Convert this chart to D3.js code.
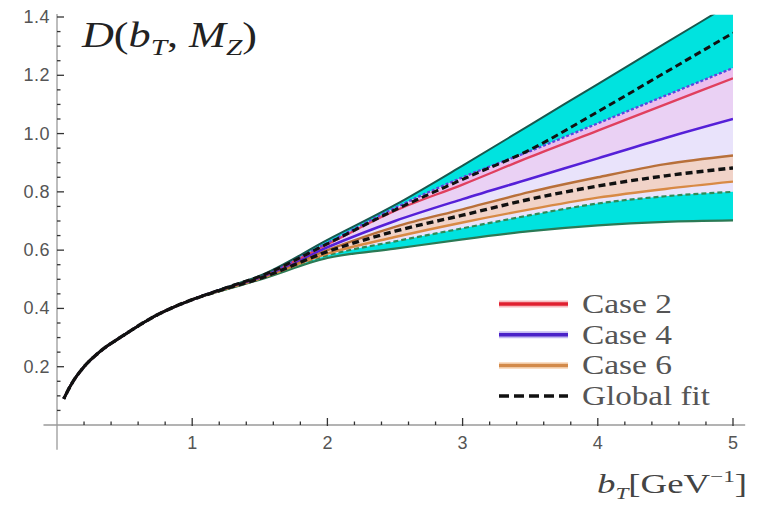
<!DOCTYPE html>
<html>
<head>
<meta charset="utf-8">
<script src="https://cdn.jsdelivr.net/npm/d3@7.9.0/dist/d3.min.js"></script>
<style>
  html, body { margin: 0; padding: 0; background: #fff; }
  svg { display: block; }
</style>
</head>
<body>
<svg id="chart" width="757" height="507"></svg>
<script>
// b_T grid (GeV^-1) and the curves
const bT = [0.05, 0.1, 0.2, 0.3, 0.5, 0.75, 1, 1.25, 1.5, 2, 2.5, 3, 3.5, 4, 4.5, 5];

const globalUpper   = [0.09, 0.135, 0.2, 0.245, 0.31, 0.38, 0.43, 0.472, 0.512, 0.635, 0.755, 0.89, 1.03, 1.17, 1.31, 1.45];
const globalHigh    = [0.09, 0.135, 0.2, 0.245, 0.31, 0.38, 0.43, 0.471, 0.51, 0.622, 0.738, 0.843, 0.945, 1.075, 1.21, 1.345];
const case4Upper    = [0.09, 0.135, 0.2, 0.245, 0.31, 0.38, 0.43, 0.471, 0.51, 0.625, 0.745, 0.85, 0.94, 1.035, 1.13, 1.225];
const case2Line     = [0.09, 0.135, 0.2, 0.245, 0.31, 0.38, 0.43, 0.47, 0.508, 0.62, 0.735, 0.825, 0.92, 1.01, 1.10, 1.19];
const case4Lower    = [0.09, 0.135, 0.2, 0.245, 0.31, 0.38, 0.43, 0.47, 0.506, 0.61, 0.70, 0.775, 0.845, 0.915, 0.985, 1.05];
const case6Upper    = [0.09, 0.135, 0.2, 0.245, 0.31, 0.38, 0.43, 0.469, 0.504, 0.60, 0.68, 0.74, 0.80, 0.85, 0.895, 0.925];
const globalCentral = [0.09, 0.135, 0.2, 0.245, 0.31, 0.38, 0.43, 0.468, 0.503, 0.595, 0.665, 0.72, 0.775, 0.82, 0.855, 0.882];
const case6Lower    = [0.09, 0.135, 0.2, 0.245, 0.31, 0.38, 0.43, 0.467, 0.502, 0.588, 0.645, 0.695, 0.74, 0.78, 0.81, 0.835];
const lowerBandTop  = [0.09, 0.135, 0.2, 0.245, 0.31, 0.38, 0.43, 0.466, 0.501, 0.582, 0.63, 0.675, 0.72, 0.76, 0.785, 0.80];
const globalLower   = [0.09, 0.135, 0.2, 0.245, 0.31, 0.38, 0.43, 0.465, 0.499, 0.573, 0.605, 0.637, 0.665, 0.685, 0.697, 0.702];

const xMajor = [1, 2, 3, 4, 5];
const yMajor = [0.2, 0.4, 0.6, 0.8, 1.0, 1.2, 1.4];
const legendLabels = ['Case 2', 'Case 4', 'Case 6', 'Global fit'];

const svg = d3.select('#chart');

const x = d3.scaleLinear().domain([0, 5]).range([57, 733]);
const y = d3.scaleLinear().domain([0, 1.4]).range([425, 17]);

const pts = arr => bT.map((b, i) => [b, arr[i]]);
const pair = (lo, hi) => bT.map((b, i) => ({ b, lo: lo[i], hi: hi[i] }));

let line = d3.line()
  .x(d => x(d[0]))
  .y(d => y(d[1]))
  .curve(d3.curveMonotoneX);

let area = d3.area()
  .x(d => x(d.b))
  .y0(d => y(d.lo))
  .y1(d => y(d.hi))
  .curve(d3.curveMonotoneX);

svg.append('clipPath').attr('id', 'plotClip')
  .append('rect')
  .attr('x', x(0)).attr('y', y(1.408))
  .attr('width', x(5) - x(0)).attr('height', y(-0.1) - y(1.408));

const plot = svg.append('g').attr('clip-path', 'url(#plotClip)');

// bands
const bands = [
  { lo: globalLower, hi: globalUpper, fill: '#00e3df' },
  { lo: lowerBandTop, hi: case4Upper, fill: '#e9e3fb' },
  { lo: case4Lower, hi: case2Line, fill: 'rgba(238,175,232,0.35)' },
  { lo: case2Line, hi: case4Upper, fill: 'rgba(238,160,228,0.55)' },
  { lo: case6Lower, hi: case6Upper, fill: 'rgba(250,196,150,0.5)' }
];

plot.selectAll('path.band')
  .data(bands)
  .join('path')
  .attr('class', 'band')
  .attr('d', d => area(pair(d.lo, d.hi)))
  .attr('fill', d => d.fill);

// curves (black dashed last so they sit on top)
const curves = [
  { v: globalLower, stroke: '#2b7a55', w: 2.2, dash: null },
  { v: lowerBandTop, stroke: '#2e8b57', w: 2.2, dash: '5,3' },
  { v: case6Lower, stroke: '#d88a45', w: 2.4, dash: null },
  { v: case6Upper, stroke: '#b8703a', w: 2.4, dash: null },
  { v: case4Lower, stroke: '#5520d8', w: 2.5, dash: null },
  { v: case2Line, stroke: '#e0405e', w: 2.3, dash: null },
  { v: case4Upper, stroke: '#5a46de', w: 2.3, dash: '3,2' },
  { v: globalUpper, stroke: '#17594f', w: 2, dash: null },
  { v: globalHigh, stroke: '#111', w: 3, dash: '7,4', off: 0 },
  { v: globalCentral, stroke: '#111', w: 3.4, dash: '7,4', off: 5 }
];

plot.selectAll('path.curve')
  .data(curves)
  .join('path')
  .attr('class', 'curve')
  .attr('d', d => line(pts(d.v)))
  .attr('fill', 'none')
  .attr('stroke', d => d.stroke)
  .attr('stroke-width', d => d.w)
  .attr('stroke-dasharray', d => d.dash)
  .attr('stroke-dashoffset', d => d.off || 0);

// axes, Mathematica style: ticks drawn inward
const xMinor = d3.range(0.2, 5.01, 0.2).filter(v => Math.abs(v - Math.round(v)) > 0.01);
const yMinor = d3.range(0.05, 1.41, 0.05).filter(v => Math.abs(v * 5 - Math.round(v * 5)) > 0.01);

const axes = svg.append('g');

axes.append('line')
  .attr('x1', x(-0.1)).attr('x2', x(5.09))
  .attr('y1', y(0)).attr('y2', y(0))
  .attr('stroke', '#9a9a9a').attr('stroke-width', 1.3);
axes.append('line')
  .attr('x1', x(0)).attr('x2', x(0))
  .attr('y1', y(-0.085)).attr('y2', y(1.41))
  .attr('stroke', '#9a9a9a').attr('stroke-width', 1.3);

axes.selectAll('line.xmin').data(xMinor).join('line')
  .attr('x1', d => x(d)).attr('x2', d => x(d))
  .attr('y1', y(0)).attr('y2', y(0) - 3.5)
  .attr('stroke', '#333').attr('stroke-width', 1.3);
axes.selectAll('line.xmaj').data(xMajor).join('line')
  .attr('x1', d => x(d)).attr('x2', d => x(d))
  .attr('y1', y(0) + 1).attr('y2', y(0) - 7)
  .attr('stroke', '#333').attr('stroke-width', 1.3);
axes.selectAll('line.ymin').data(yMinor).join('line')
  .attr('x1', x(0)).attr('x2', x(0) + 3.5)
  .attr('y1', d => y(d)).attr('y2', d => y(d))
  .attr('stroke', '#333').attr('stroke-width', 1.3);
axes.selectAll('line.ymaj').data(yMajor).join('line')
  .attr('x1', x(0)).attr('x2', x(0) + 7)
  .attr('y1', d => y(d)).attr('y2', d => y(d))
  .attr('stroke', '#333').attr('stroke-width', 1.3);

axes.selectAll('text.xlab').data(xMajor).join('text')
  .attr('x', d => x(d)).attr('y', 449)
  .attr('text-anchor', 'middle')
  .attr('font-family', "'Liberation Sans', Arial, sans-serif")
  .attr('font-size', 18).attr('fill', '#555')
  .text(d => d3.format('d')(d));

axes.selectAll('text.ylab').data(yMajor).join('text')
  .attr('x', 50).attr('y', d => y(d) + 6)
  .attr('text-anchor', 'end')
  .attr('font-family', "'Liberation Sans', Arial, sans-serif")
  .attr('font-size', 18).attr('fill', '#555')
  .attr('letter-spacing', 0.5)
  .text(d => d3.format('.1f')(d));

// title D(b_T, M_Z)
const title = svg.append('text')
  .attr('x', 82).attr('y', 47)
  .attr('font-family', "'Liberation Serif', 'Times New Roman', serif")
  .attr('font-size', 36).attr('fill', '#222')
  .attr('textLength', 175).attr('lengthAdjust', 'spacingAndGlyphs');
title.append('tspan').attr('font-style', 'italic').text('D');
title.append('tspan').text('(');
title.append('tspan').attr('font-style', 'italic').text('b');
title.append('tspan').attr('font-style', 'italic').attr('font-size', 24).attr('dy', 8).text('T');
title.append('tspan').attr('dy', -8).text(', ');
title.append('tspan').attr('font-style', 'italic').text('M');
title.append('tspan').attr('font-style', 'italic').attr('font-size', 24).attr('dy', 8).text('Z');
title.append('tspan').attr('dy', -8).text(')');

// x-axis label b_T [GeV^-1]
const xl = svg.append('text')
  .attr('x', 597).attr('y', 493)
  .attr('font-family', "'Liberation Serif', 'Times New Roman', serif")
  .attr('font-size', 27).attr('fill', '#444')
  .attr('textLength', 150).attr('lengthAdjust', 'spacingAndGlyphs');
xl.append('tspan').attr('font-style', 'italic').text('b');
xl.append('tspan').attr('font-style', 'italic').attr('font-size', 17).attr('dy', 6).text('T');
xl.append('tspan').attr('dy', -6).text('[GeV');
xl.append('tspan').attr('font-size', 17).attr('dy', -11).text('\u22121');
xl.append('tspan').attr('dy', 11).text(']');

// legend
const legendStyles = [
  { stroke: '#e02030', halo: 'rgba(240,120,130,0.5)', dash: null },
  { stroke: '#4a22c8', halo: 'rgba(140,120,230,0.5)', dash: null },
  { stroke: '#d38a4a', halo: 'rgba(245,190,140,0.5)', dash: null },
  { stroke: '#111', halo: null, dash: '10,5' }
];
const legend = svg.append('g');
const rows = legend.selectAll('g.row')
  .data(legendLabels)
  .join('g')
  .attr('class', 'row')
  .attr('transform', (d, i) => `translate(0, ${304 + i * 30.7})`);

rows.filter((d, i) => legendStyles[i].halo)
  .append('line')
  .attr('x1', 499).attr('x2', 568)
  .attr('stroke', d => legendStyles[legendLabels.indexOf(d)].halo)
  .attr('stroke-width', 7);
rows.append('line')
  .attr('x1', 499).attr('x2', 568)
  .attr('stroke', (d, i) => legendStyles[i].stroke)
  .attr('stroke-width', 3.5)
  .attr('stroke-dasharray', (d, i) => legendStyles[i].dash);
rows.append('text')
  .attr('x', 582).attr('y', 9)
  .attr('font-family', "'Liberation Serif', 'Times New Roman', serif")
  .attr('font-size', 27).attr('fill', '#555')
  .attr('textLength', d => d === 'Global fit' ? 128 : 90)
  .attr('lengthAdjust', 'spacingAndGlyphs')
  .text(d => d);
</script>
</body>
</html>
